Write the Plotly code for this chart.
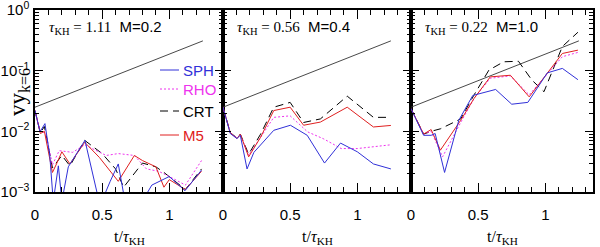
import plotly.graph_objects as go

# ---------------- data ----------------
t_ref = [0.0, 1.25]
v_ref = [0.025, 0.31]

tau_vals = ["1.11", "0.56", "0.22"]
mach_vals = ["0.2", "0.4", "1.0"]

# panel 1 (M=0.2)
sph1_t = [0, 0.037, 0.074, 0.11, 0.136, 0.174, 0.2, 0.248, 0.372, 0.484, 0.56, 0.62, 0.67, 0.78, 0.87, 1.0, 1.117, 1.24]
sph1_v = [0.022, 0.0098, 0.0134, 0.004, 0.0007, 0.0027, 0.0007, 0.0026, 0.0071, 0.0006, 0.0015, 0.0029, 0.0007, 0.0006, 0.0013, 0.0018, 0.00105, 0.0023]
rho1_t = [0, 0.04, 0.08, 0.13, 0.18, 0.28, 0.37, 0.53, 0.62, 0.74, 0.83, 0.92, 1.0, 1.12, 1.24]
rho1_v = [0.022, 0.010, 0.0095, 0.0028, 0.0048, 0.0045, 0.0060, 0.0040, 0.0043, 0.0040, 0.0024, 0.0022, 0.0018, 0.0013, 0.0033]
crt1_t = [0, 0.04, 0.07, 0.13, 0.2, 0.26, 0.37, 0.5, 0.6, 0.66, 0.8, 0.9, 0.96, 1.0, 1.12, 1.24]
crt1_v = [0.022, 0.0095, 0.012, 0.0025, 0.0040, 0.0027, 0.0071, 0.0043, 0.0024, 0.0012, 0.0030, 0.0026, 0.0021, 0.0018, 0.0011, 0.0024]
m51_t = [0, 0.04, 0.07, 0.13, 0.16, 0.2, 0.26, 0.37, 0.48, 0.55, 0.62, 0.74, 0.8, 0.9, 0.96, 1.0, 1.12, 1.24]
m51_v = [0.022, 0.0092, 0.010, 0.0021, 0.0029, 0.0046, 0.0029, 0.0066, 0.0037, 0.0024, 0.0015, 0.0040, 0.0033, 0.0026, 0.0012, 0.0016, 0.0011, 0.0022]

# panel 2 (M=0.4)
sph2_t = [0, 0.054, 0.104, 0.129, 0.179, 0.23, 0.378, 0.502, 0.627, 0.756, 0.875, 1.0, 1.12, 1.25]
sph2_v = [0.025, 0.0092, 0.0076, 0.0086, 0.0024, 0.0045, 0.0104, 0.0126, 0.0086, 0.0030, 0.0064, 0.0046, 0.0029, 0.0024]
rho2_t = [0, 0.054, 0.104, 0.129, 0.191, 0.28, 0.378, 0.50, 0.63, 0.75, 0.88, 1.0, 1.12, 1.25]
rho2_v = [0.025, 0.0095, 0.0078, 0.0088, 0.0040, 0.008, 0.017, 0.018, 0.0098, 0.0075, 0.0052, 0.0052, 0.0056, 0.0060]
crt2_t = [0, 0.054, 0.104, 0.129, 0.191, 0.28, 0.378, 0.50, 0.60, 0.725, 0.925, 1.12, 1.25]
crt2_v = [0.025, 0.0095, 0.0078, 0.0090, 0.0042, 0.009, 0.025, 0.030, 0.014, 0.016, 0.038, 0.017, 0.017]
m52_t = [0, 0.054, 0.104, 0.129, 0.191, 0.28, 0.378, 0.50, 0.60, 0.725, 0.925, 1.12, 1.25]
m52_v = [0.025, 0.0095, 0.0076, 0.0090, 0.0038, 0.008, 0.022, 0.025, 0.0126, 0.0142, 0.025, 0.0118, 0.0125]

# panel 3 (M=1.0)
sph3_t = [0, 0.094, 0.15, 0.18, 0.25, 0.356, 0.46, 0.63, 0.75, 0.87, 1.015, 1.127, 1.243]
sph3_v = [0.0237, 0.0086, 0.0086, 0.0092, 0.0021, 0.0152, 0.039, 0.049, 0.028, 0.030, 0.092, 0.109, 0.071]
rho3_t = [0, 0.094, 0.15, 0.235, 0.37, 0.47, 0.59, 0.74, 0.88, 1.02, 1.127, 1.243]
rho3_v = [0.0237, 0.0090, 0.0100, 0.0038, 0.014, 0.035, 0.075, 0.082, 0.040, 0.090, 0.170, 0.20]
crt3_t = [0, 0.094, 0.15, 0.219, 0.37, 0.47, 0.58, 0.69, 0.80, 0.90, 0.99, 1.127, 1.243]
crt3_v = [0.0237, 0.0090, 0.0100, 0.0110, 0.016, 0.040, 0.102, 0.140, 0.143, 0.07, 0.045, 0.25, 0.43]
m53_t = [0, 0.094, 0.15, 0.219, 0.37, 0.47, 0.59, 0.74, 0.88, 1.02, 1.127, 1.243]
m53_v = [0.0237, 0.0090, 0.0107, 0.0049, 0.0152, 0.035, 0.079, 0.084, 0.037, 0.095, 0.192, 0.218]

y_tickvals = [1e-3, 1e-2, 1e-1, 1.0]
y_ticktext = ["10<sup>\u22123</sup>", "10<sup>\u22122</sup>", "10<sup>\u22121</sup>", "10<sup>0</sup>"]

series_names = ["SPH", "RHO", "CRT", "M5"]

# ---------------- styling ----------------
W, H = 600, 247
ML, MR, MT, MB = 35, 7, 10, 55
PW = W - ML - MR
PH = H - MT - MB
px_per_unit = 134.3
pan_px = [188, 188, 182]

COL = {"SPH": "#3030d8", "RHO": "#ee33ee", "CRT": "#000000", "M5": "#e02020"}
DASH = {"SPH": "solid", "RHO": "2px,2px", "CRT": "8px,5px", "M5": "solid"}
SANS = "Liberation Sans, Arial, sans-serif"
SERIF = "Liberation Serif, Times New Roman, serif"

panels = [
    [(sph1_t, sph1_v), (rho1_t, rho1_v), (crt1_t, crt1_v), (m51_t, m51_v)],
    [(sph2_t, sph2_v), (rho2_t, rho2_v), (crt2_t, crt2_v), (m52_t, m52_v)],
    [(sph3_t, sph3_v), (rho3_t, rho3_v), (crt3_t, crt3_v), (m53_t, m53_v)],
]

fig = go.Figure()
minor_y = [m * 10.0 ** e for e in (-3, -2, -1) for m in range(2, 10)]

edges = [0]
for p in pan_px:
    edges.append(edges[-1] + p)

layout = dict(
    template="none",
    width=W, height=H, margin=dict(l=ML, r=MR, t=MT, b=MB, pad=0, autoexpand=False),
    paper_bgcolor="white", plot_bgcolor="white", showlegend=False,
    font=dict(family=SANS, size=15, color="black"),
)

annotations = []
shapes = []
for i in range(3):
    xa = "x" if i == 0 else f"x{i+1}"
    ya = "y" if i == 0 else f"y{i+1}"
    xk = "xaxis" if i == 0 else f"xaxis{i+1}"
    yk = "yaxis" if i == 0 else f"yaxis{i+1}"
    dom = [edges[i] / PW, edges[i + 1] / PW]
    layout[xk] = dict(
        domain=dom, range=[0, pan_px[i] / px_per_unit], anchor=ya, automargin=False,
        showline=True, linewidth=1.5, linecolor="black", mirror="ticks",
        ticks="inside", ticklen=9, tickwidth=1, tickcolor="black",
        dtick=0.5, tick0=0, showgrid=False, zeroline=False,
        tickfont=dict(family=SANS, size=15), ticklabelstandoff=8,
        ticklabeloverflow="allow",
        minor=dict(dtick=0.1, tick0=0, ticks="inside", ticklen=5, tickwidth=1, tickcolor="black", showgrid=False),
    )
    layout[yk] = dict(
        type="log", range=[-3, 0], anchor=xa, domain=[0, 1], automargin=False,
        showline=True, linewidth=1.5, linecolor="black", mirror="ticks",
        ticks="inside", ticklen=8, tickwidth=1, tickcolor="black",
        tickmode="array", tickvals=y_tickvals, ticktext=y_ticktext,
        showticklabels=(i == 0), showgrid=False, zeroline=False,
        tickfont=dict(family=SANS, size=15), ticklabelstandoff=1,
        ticklabeloverflow="allow",
        minor=dict(tickmode="array", tickvals=minor_y, ticks="inside", ticklen=4, tickwidth=1, tickcolor="black", showgrid=False),
    )
    # reference growth line
    fig.add_trace(go.Scatter(x=t_ref, y=v_ref, mode="lines", xaxis=xa, yaxis=ya,
                             line=dict(color="#333333", width=0.9)))
    order = [2, 1, 3, 0]
    for k in order:
        name = series_names[k]
        tt, vv = panels[i][k]
        fig.add_trace(go.Scatter(x=tt, y=vv, mode="lines", xaxis=xa, yaxis=ya, name=name,
                                 line=dict(color=COL[name], width=1, dash=DASH[name])))
    # panel label
    annotations.append(dict(
        xref=f"{xa} domain", yref="paper", x=12 / pan_px[i], y=(PH - 17) / PH,
        xanchor="left", yanchor="middle", showarrow=False,
        text=(f"<span style='font-family:{SERIF}'><i>\u03c4</i><sub>KH</sub> = {tau_vals[i]}</span>"
              f"  M={mach_vals[i]}"),
        font=dict(family=SANS, size=15, color="black")))
    # x title
    annotations.append(dict(
        xref=f"{xa} domain", yref="paper", x=0.5, y=-45 / PH,
        xanchor="center", yanchor="middle", showarrow=False,
        text="t/<i>\u03c4</i><sub>KH</sub>",
        font=dict(family=SERIF, size=16, color="black")))

# y title
annotations.append(dict(
    xref="paper", yref="paper", x=-16 / PW, y=(192 - 92) / PH,
    xanchor="center", yanchor="middle", showarrow=False, textangle=-90,
    text="vy<sub>k=6</sub>", font=dict(family=SERIF, size=23, color="black")))

# legend drawn in panel 1
leg_y = [70, 89, 111, 135]
for name, ypx in zip(series_names, leg_y):
    yp = (192 - ypx) / PH
    shapes.append(dict(type="line", xref="paper", yref="paper",
                       x0=(160 - ML) / PW, x1=(179 - ML) / PW, y0=yp, y1=yp,
                       line=dict(color=COL[name], width=1, dash=DASH[name])))
    annotations.append(dict(xref="paper", yref="paper", x=(181 - ML) / PW, y=yp,
                            xanchor="left", yanchor="middle", showarrow=False,
                            text=name, font=dict(family=SANS, size=15, color=COL[name])))

layout["annotations"] = annotations
layout["shapes"] = shapes
fig.update_layout(**layout)
fig.write_html("out.html", config={"displayModeBar": False},
               post_script="document.body.style.margin='0px';")
